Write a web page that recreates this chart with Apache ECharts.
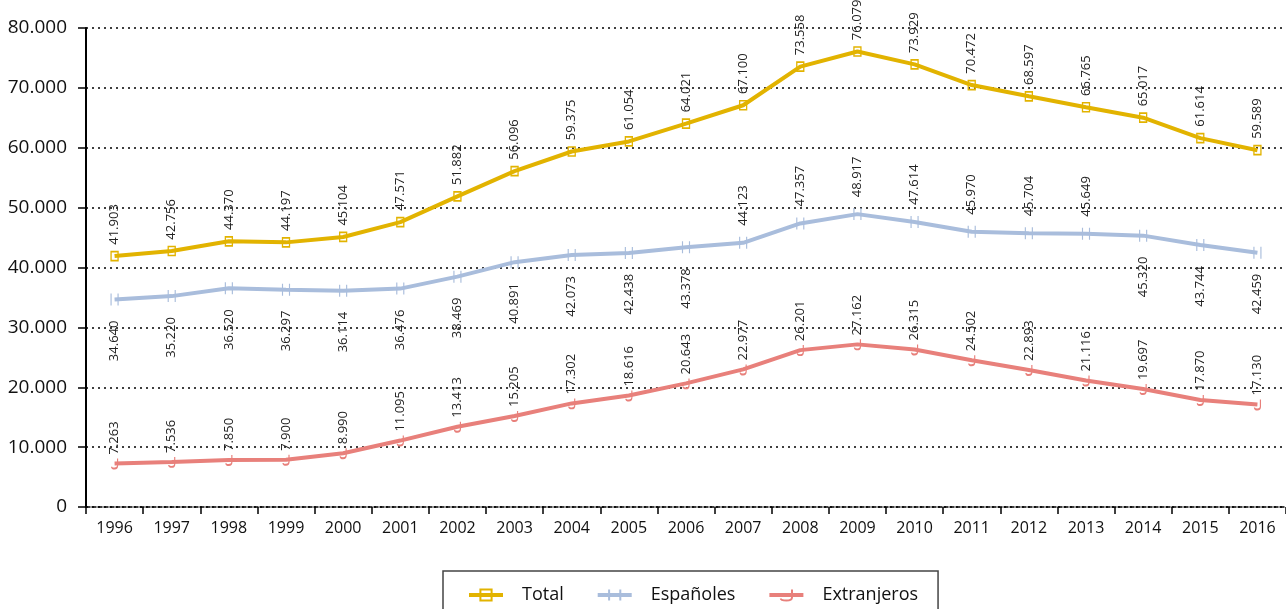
<!DOCTYPE html>
<html>
<head>
<meta charset="utf-8">
<script src="https://cdn.jsdelivr.net/npm/echarts@6/dist/echarts.min.js"></script>
<style>
  html, body { margin: 0; padding: 0; background: #fff; }
  #chart { width: 1286px; height: 609px; }
</style>
</head>
<body>
<div id="chart"></div>
<script>
const years = ['1996', '1997', '1998', '1999', '2000', '2001', '2002', '2003', '2004', '2005', '2006',
    '2007', '2008', '2009', '2010', '2011', '2012', '2013', '2014', '2015', '2016'];
const total = [41903, 42756, 44370, 44197, 45104, 47571, 51882, 56096, 59375, 61054, 64021,
    67100, 73558, 76079, 73929, 70472, 68597, 66765, 65017, 61614, 59589];
const espanoles = [34640, 35220, 36520, 36297, 36114, 36476, 38469, 40891, 42073, 42438, 43378,
    44123, 47357, 48917, 47614, 45970, 45704, 45649, 45320, 43744, 42459];
const extranjeros = [7263, 7536, 7850, 7900, 8990, 11095, 13413, 15205, 17302, 18616, 20643,
    22977, 26201, 27162, 26315, 24502, 22893, 21116, 19697, 17870, 17130];

document.addEventListener('DOMContentLoaded', function() {

    const fontFamily = '"Open Sans", "Noto Sans", sans-serif';
    const fmt = (v) => String(v).replace(/\B(?=(\d{3})+(?!\d))/g, '.');

    const labelTop = (distance) => ({
        show: true,
        position: 'top',
        distance: distance,
        rotate: 90,
        align: 'left',
        verticalAlign: 'middle',
        color: '#222',
        fontSize: 13,
        fontFamily: fontFamily,
        formatter: (p) => fmt(p.value)
    });
    const labelBottom = (distance) => ({
        show: true,
        position: 'bottom',
        distance: distance,
        rotate: 90,
        align: 'right',
        verticalAlign: 'middle',
        color: '#222',
        fontSize: 13,
        fontFamily: fontFamily,
        formatter: (p) => fmt(p.value)
    });

    // Españoles: labels above the line from 2007 to 2013, below elsewhere
    const espData = espanoles.map((v, i) => (i >= 11 && i <= 17)
        ? {value: v, label: labelTop(10)}
        : {value: v, label: labelBottom(14)});

    const lineSeries = (name, color, symbol, symbolSize, data, label) => ({
        name: name,
        type: 'line',
        data: data,
        color: color,
        symbol: symbol,
        symbolSize: symbolSize,
        showAllSymbol: true,
        lineStyle: {width: 4, color: color},
        itemStyle: {color: 'rgba(255,255,255,0)', borderColor: color, borderWidth: 1.5},
        label: label,
        z: 3
    });

    const chart = echarts.init(document.getElementById('chart'));
    chart.setOption({
        animation: false,
        textStyle: {fontFamily: fontFamily},
        grid: {left: 86, right: -8, top: 28, bottom: 102},
        legend: {
            left: 443,
            top: 571,
            padding: [15, 20, 40, 24],
            itemGap: 32,
            itemWidth: 34,
            itemHeight: 14,
            borderColor: '#444',
            borderWidth: 1.5,
            lineStyle: {width: 4},
            textStyle: {fontSize: 18, color: '#111', fontFamily: fontFamily, padding: [0, 0, 0, 14]},
            data: ['Total', 'Españoles', 'Extranjeros']
        },
        xAxis: {
            type: 'category',
            data: years,
            boundaryGap: true,
            axisLine: {lineStyle: {color: '#000', width: 1.5, type: [4, 2]}},
            axisTick: {show: true, length: 7, lineStyle: {color: '#000', width: 1.5}},
            axisLabel: {color: '#111', fontSize: 16, margin: 13, fontFamily: fontFamily}
        },
        yAxis: {
            type: 'value',
            min: 0,
            max: 80000,
            interval: 10000,
            axisLine: {show: true, lineStyle: {color: '#000', width: 2}},
            axisTick: {show: true, length: 8, lineStyle: {color: '#000', width: 1.5}},
            axisLabel: {color: '#111', fontSize: 19, margin: 19, fontFamily: fontFamily, formatter: fmt},
            splitLine: {lineStyle: {color: '#000', width: 1.5, type: [2, 4]}}
        },
        series: [
            lineSeries('Total', '#e2b300', 'path://M0,0 L7,0 L7,9 L0,9 Z', [7, 9],
                total, labelTop(6)),
            lineSeries('Españoles', '#a9bddc', 'path://M0,0 L0,12 M5,0 L5,12', [7, 12],
                espData, {show: true}),
            lineSeries('Extranjeros', '#e8807b', 'path://M6,0 L6,8 Q6,11 3,11 Q0,11 0,9', [6, 10],
                extranjeros, labelTop(3))
        ]
    });

});
</script>
</body>
</html>
